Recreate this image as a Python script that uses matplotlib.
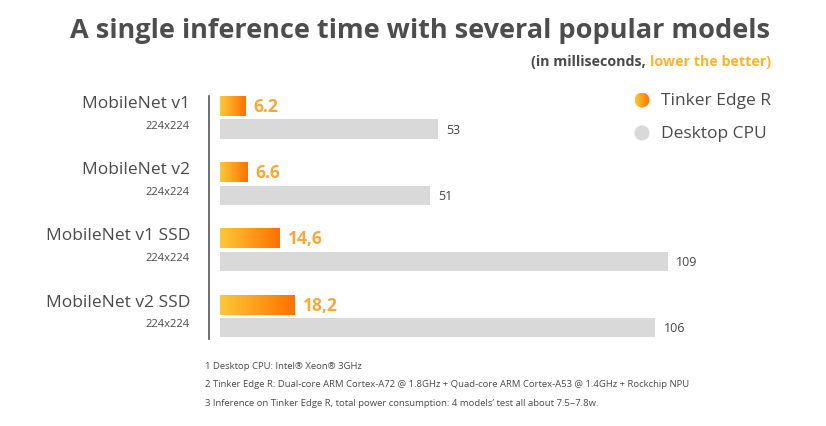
import numpy as np
import matplotlib
matplotlib.use("Agg")
import matplotlib.pyplot as plt
import matplotlib.transforms as mtransforms
from matplotlib.colors import LinearSegmentedColormap
from matplotlib.patches import Circle
from matplotlib.lines import Line2D

# ---- data ----
models = ["MobileNet v1", "MobileNet v2", "MobileNet v1 SSD", "MobileNet v2 SSD"]
input_sizes = ["224x224", "224x224", "224x224", "224x224"]
tinker_edge_r = [6.2, 6.6, 14.6, 18.2]
tinker_labels = ["6.2", "6.6", "14,6", "18,2"]
desktop_cpu = [53, 51, 109, 106]
desktop_labels = ["53", "51", "109", "106"]
series_names = ["Tinker Edge R", "Desktop CPU"]
footnotes = [
    "1 Desktop CPU: Intel\u00ae Xeon\u00ae 3GHz",
    "2 Tinker Edge R: Dual-core ARM Cortex-A72 @ 1.8GHz + Quad-core ARM Cortex-A53 @ 1.4GHz + Rockchip NPU",
    "3 Inference on Tinker Edge R, total power consumption: 4 models\u2019 test all about 7.5~7.8w.",
]

FONT = "Open Sans"
DARK = "#4A4A4A"
GRAY_BAR = "#D9D9D9"
ORANGE_TXT = "#F7A93B"
SUB_ORANGE = "#F9B52B"
grad = LinearSegmentedColormap.from_list("g", ["#FBC938", "#FF7100"])

W, H = 826, 427
fig = plt.figure(figsize=(W / 100, H / 100), dpi=100)

# overlay axes in pixel coordinates for decorations
ov = fig.add_axes([0, 0, 1, 1])
ov.set_xlim(0, W)
ov.set_ylim(H, 0)
ov.axis("off")

# main bar axes
left_px, right_px = 220, 713
top_px, bot_px = 90, 345
ax = fig.add_axes([left_px / W, 1 - bot_px / H, (right_px - left_px) / W, (bot_px - top_px) / H])
ax.set_zorder(2)
ax.patch.set_alpha(0)
xmax = 120
ylo, yhi = -0.43, 3.42
ax.axis("off")

off = 0.174
bh_o, bh_g = 0.30, 0.29
ypos = np.arange(len(models))
gradient = np.linspace(0, 1, 256).reshape(1, -1)

for i, y in enumerate(ypos):
    v = tinker_edge_r[i]
    yo = y - off
    ax.imshow(gradient, cmap=grad, aspect="auto",
              extent=(0, v, yo + bh_o / 2, yo - bh_o / 2), zorder=2)
    ax.annotate(tinker_labels[i], (v, yo), xytext=(6, 0), textcoords="offset points",
                va="center", ha="left", fontsize=12.5, fontweight="bold",
                color=ORANGE_TXT, family=FONT)

ax.barh(ypos + off, desktop_cpu, height=bh_g, color=GRAY_BAR, zorder=1)
for i, y in enumerate(ypos):
    ax.annotate(desktop_labels[i], (desktop_cpu[i], y + off), xytext=(6, 0),
                textcoords="offset points", va="center", ha="left",
                fontsize=9, color="#444444", family=FONT)

ax.set_xlim(0, xmax)
ax.set_ylim(yhi, ylo)

# category labels
bt = mtransforms.blended_transform_factory(fig.transFigure, ax.transData)
for i, y in enumerate(ypos):
    ax.text(190 / W, y - 0.22, models[i], transform=bt, ha="right", va="center",
            fontsize=12.5, color=DARK, family=FONT, fontweight="medium")
    ax.text(190 / W, y + 0.115, input_sizes[i], transform=bt, ha="right", va="center",
            fontsize=8, color=DARK, family=FONT)

# vertical axis line
ov.add_line(Line2D([209, 209], [97, 340], color="#555555", lw=1.2))

# title & subtitle
ov.text(420, 31, "A single inference time with several popular models", ha="center",
        va="center", fontsize=19.5, fontweight="bold", color="#4D4D4D", family=FONT)
t2 = ov.text(771, 62, "lower the better)", ha="right", va="center", fontsize=10.3,
             fontweight="bold", color=SUB_ORANGE, family=FONT)
fig.canvas.draw()
bb = t2.get_window_extent()
x_left = bb.x0  # pixels
ov.text(x_left, 62, "(in milliseconds, ", ha="right", va="center", fontsize=10.3,
        fontweight="bold", color=DARK, family=FONT)

# legend
c1 = Circle((642, 101), 7.5, facecolor="none", edgecolor="none")
ov.add_patch(c1)
im = ov.imshow(gradient, cmap=grad, extent=(634.5, 649.5, 108.5, 93.5), aspect="auto", zorder=3)
im.set_clip_path(c1)
ov.add_patch(Circle((642, 134), 7.5, facecolor=GRAY_BAR, edgecolor="none"))
ov.text(661, 101, series_names[0], ha="left", va="center", fontsize=12.5, color=DARK,
        family=FONT, fontweight="medium")
ov.text(661, 134, series_names[1], ha="left", va="center", fontsize=12.5, color=DARK,
        family=FONT, fontweight="medium")
ov.set_xlim(0, W)
ov.set_ylim(H, 0)

# footnotes
for fn, yy in zip(footnotes, [367, 385, 404]):
    ov.text(205, yy, fn, ha="left", va="center", fontsize=6.8, color=DARK, family=FONT)

fig.savefig("out.png", dpi=100)
